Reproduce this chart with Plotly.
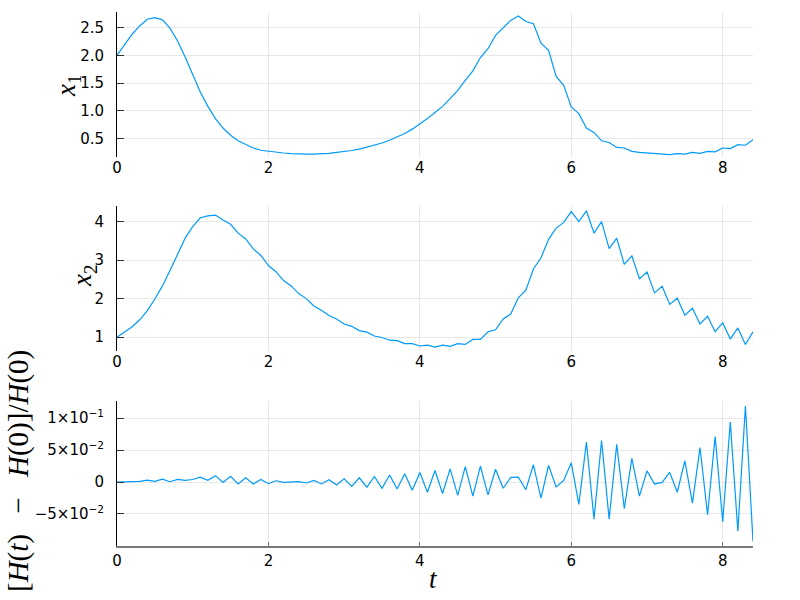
import plotly.graph_objects as go

t = [0.0, 0.1, 0.2, 0.3, 0.4, 0.5, 0.6, 0.7, 0.8, 0.9,
     1.0, 1.1, 1.2, 1.3, 1.4, 1.5, 1.6, 1.7, 1.8, 1.9,
     2.0, 2.1, 2.2, 2.3, 2.4, 2.5, 2.6, 2.7, 2.8, 2.9,
     3.0, 3.1, 3.2, 3.3, 3.4, 3.5, 3.6, 3.7, 3.8, 3.9,
     4.0, 4.1, 4.2, 4.3, 4.4, 4.5, 4.6, 4.7, 4.8, 4.9,
     5.0, 5.1, 5.2, 5.3, 5.4, 5.5, 5.6, 5.7, 5.8, 5.9,
     6.0, 6.1, 6.2, 6.3, 6.4, 6.5, 6.6, 6.7, 6.8, 6.9,
     7.0, 7.1, 7.2, 7.3, 7.4, 7.5, 7.6, 7.7, 7.8, 7.9,
     8.0, 8.1, 8.2, 8.3, 8.4]

x1 = [2.00, 2.20, 2.38, 2.53, 2.65, 2.68, 2.64, 2.49, 2.26, 1.97,
      1.65, 1.34, 1.08, 0.86, 0.69, 0.56, 0.46, 0.39, 0.33, 0.29,
      0.27, 0.25, 0.24, 0.23, 0.22, 0.22, 0.22, 0.225, 0.235, 0.25,
      0.265, 0.285, 0.31, 0.345, 0.38, 0.42, 0.47, 0.53, 0.59, 0.67,
      0.76, 0.86, 0.97, 1.08, 1.22, 1.37, 1.55, 1.72, 1.96, 2.12,
      2.36, 2.50, 2.63, 2.71, 2.61, 2.57, 2.22, 2.09, 1.62, 1.46,
      1.07, 0.95, 0.69, 0.61, 0.46, 0.43, 0.34, 0.33, 0.27, 0.25,
      0.24, 0.23, 0.23, 0.21, 0.23, 0.22, 0.25, 0.235, 0.27, 0.26,
      0.33, 0.32, 0.39, 0.38, 0.48]

x2 = [1.00, 1.13, 1.27, 1.45, 1.69, 1.99, 2.33, 2.73, 3.14, 3.57,
      3.87, 4.10, 4.15, 4.17, 4.04, 3.93, 3.70, 3.55, 3.29, 3.12,
      2.86, 2.70, 2.47, 2.33, 2.13, 2.00, 1.81, 1.70, 1.56, 1.47,
      1.34, 1.28, 1.17, 1.13, 1.03, 0.99, 0.92, 0.91, 0.83, 0.83,
      0.77, 0.79, 0.74, 0.79, 0.76, 0.83, 0.81, 0.94, 0.94, 1.14,
      1.19, 1.47, 1.60, 2.02, 2.22, 2.77, 3.06, 3.54, 3.83, 3.98,
      4.26, 4.00, 4.28, 3.70, 4.00, 3.30, 3.57, 2.89, 3.11, 2.52,
      2.69, 2.15, 2.32, 1.85, 2.01, 1.57, 1.75, 1.34, 1.54, 1.14,
      1.37, 0.95, 1.24, 0.81, 1.14]

rel_err = [0.0, 0.0005, 0.001, 0.001, 0.003, 0.001, 0.0046, 0.0005, 0.004, 0.0026,
           0.004, 0.0077, 0.0026, 0.010, -0.0005, 0.009, -0.003, 0.0067, -0.003, 0.004,
           -0.0026, 0.002, -0.0005, 0.0005, 0.0005, -0.0015, 0.0026, -0.003, 0.0036, -0.0046,
           0.005, -0.0067, 0.0067, -0.008, 0.0087, -0.0097, 0.011, -0.011, 0.013, -0.013,
           0.015, -0.016, 0.018, -0.018, 0.0205, -0.021, 0.024, -0.022, 0.025, -0.020,
           0.020, -0.0097, 0.0072, 0.0077, -0.012, 0.027, -0.025, 0.026, -0.0077, 0.0026,
           0.030, -0.035, 0.0626, -0.058, 0.065, -0.058, 0.059, -0.0415, 0.037, -0.022,
           0.0174, -0.003, -0.0005, 0.015, -0.016, 0.033, -0.033, 0.054, -0.051, 0.071,
           -0.062, 0.094, -0.077, 0.119, -0.093]

x_ticks = [0, 2, 4, 6, 8]
y1_ticks = [0.5, 1.0, 1.5, 2.0, 2.5]
y1_ticktext = ["0.5", "1.0", "1.5", "2.0", "2.5"]
y2_ticks = [1, 2, 3, 4]
y3_ticks = [-0.05, 0.0, 0.05, 0.1]
y3_ticktext = ["\u22125\u00d710<sup>\u22122</sup>", "0", "5\u00d710<sup>\u22122</sup>", "1\u00d710<sup>\u22121</sup>"]

LINE_COLOR = "#009AFA"
GRID = "rgba(0,0,0,0.09)"
TICKFONT = dict(family="DejaVu Sans", size=15, color="black")
LABELFONT = dict(family="Liberation Serif", size=27, color="black")
BIGLABELFONT = dict(family="Liberation Serif", size=29, color="black")

fig = go.Figure()
fig.add_trace(go.Scatter(x=t, y=x1, mode="lines", line=dict(color=LINE_COLOR, width=1.2),
                         xaxis="x", yaxis="y", showlegend=False))
fig.add_trace(go.Scatter(x=t, y=x2, mode="lines", line=dict(color=LINE_COLOR, width=1.2),
                         xaxis="x2", yaxis="y2", showlegend=False))
fig.add_trace(go.Scatter(x=t, y=rel_err, mode="lines", line=dict(color=LINE_COLOR, width=1.2),
                         xaxis="x3", yaxis="y3", showlegend=False))

# plot area: x 117..753, y 12..546 px
dom1 = [(546 - 157) / 534, 1.0]
dom2 = [(546 - 351) / 534, (546 - 206) / 534]
dom3 = [0.0, (546 - 401) / 534]

def xaxis(anchor, bottom):
    d = dict(range=[0, 8.4], tickvals=x_ticks, ticktext=[str(v) for v in x_ticks],
             showgrid=True, gridcolor=GRID, gridwidth=1, zeroline=False,
             tickfont=TICKFONT, anchor=anchor, domain=[0, 1], automargin=False)
    if bottom:
        d.update(showline=True, linecolor="#7a7a7a", linewidth=2, ticks="inside",
                 ticklen=4, tickcolor="#7a7a7a")
    else:
        d.update(showline=False, ticks="")
    return d

def yaxis(anchor, dom, rng, tv, tt):
    return dict(range=rng, domain=dom, tickvals=tv, ticktext=tt, anchor=anchor,
                showgrid=True, gridcolor=GRID, gridwidth=1, zeroline=False,
                showline=True, linecolor="black", linewidth=1,
                ticks="inside", ticklen=7, tickcolor="#333333", tickwidth=1,
                tickfont=TICKFONT, ticklabelstandoff=9, automargin=False)

fig.update_layout(
    width=800, height=600,
    paper_bgcolor="white", plot_bgcolor="white",
    margin=dict(l=117, r=47, t=12, b=54, autoexpand=False),
    xaxis=xaxis("y", False),
    xaxis2=xaxis("y2", False),
    xaxis3=xaxis("y3", True),
    yaxis=yaxis("x", dom1, [0.168, 2.781], y1_ticks, y1_ticktext),
    yaxis2=yaxis("x2", dom2, [0.64, 4.405], y2_ticks, [str(v) for v in y2_ticks]),
    yaxis3=yaxis("x3", dom3, [-0.1001, 0.1268], y3_ticks, y3_ticktext),
    annotations=[
        dict(text="<i>x</i><sub>1</sub>", xref="paper", yref="paper",
             x=(68 - 117) / 636, y=(546 - 86) / 534, xanchor="center", yanchor="middle",
             textangle=-90, showarrow=False, font=LABELFONT),
        dict(text="<i>x</i><sub>2</sub>", xref="paper", yref="paper",
             x=(84 - 117) / 636, y=(546 - 276) / 534, xanchor="center", yanchor="middle",
             textangle=-90, showarrow=False, font=LABELFONT),
        dict(text="[<i>H</i>(<i>t</i>)\u2002\u2009\u2212\u2002\u2009<i>H</i>(0)]/<i>H</i>(0)",
             xref="paper", yref="paper",
             x=(18 - 117) / 636, y=(546 - 471) / 534, xanchor="center", yanchor="middle",
             textangle=-90, showarrow=False, font=BIGLABELFONT),
        dict(text="<i>t</i>", xref="paper", yref="paper",
             x=(433 - 117) / 636, y=-(579 - 546) / 534, xanchor="center", yanchor="middle",
             showarrow=False, font=LABELFONT),
    ],
)

fig.write_html("out.html", config={"displayModeBar": False},
               post_script="document.body.style.margin='0';")
